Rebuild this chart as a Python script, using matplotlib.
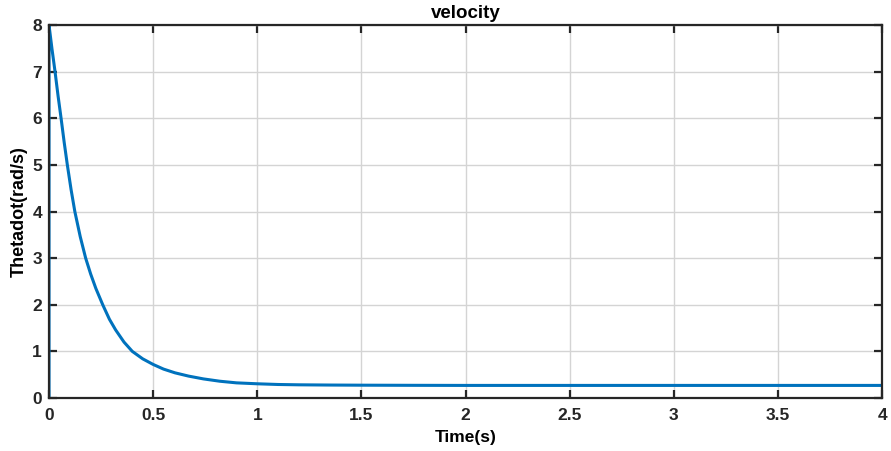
import numpy as np
import matplotlib
matplotlib.use("Agg")
import matplotlib.pyplot as plt

# angular velocity response
time_s = [0.0, 0.0, 0.0145, 0.029, 0.0435, 0.058, 0.073, 0.088, 0.106, 0.124,
          0.15, 0.176, 0.2, 0.225, 0.258, 0.29, 0.32, 0.36, 0.40, 0.45,
          0.5, 0.55, 0.605, 0.67, 0.741, 0.82, 0.9, 1.0, 1.1, 1.2,
          1.35, 1.5, 1.75, 2.0, 2.5, 3.0, 3.5, 4.0]
thetadot = [0.0, 8.0, 7.48, 7.0, 6.48, 6.0, 5.48, 5.0, 4.47, 4.0,
            3.46, 3.0, 2.66, 2.35, 2.0, 1.69, 1.46, 1.20, 1.0, 0.84,
            0.72, 0.62, 0.54, 0.47, 0.41, 0.36, 0.325, 0.305, 0.29, 0.283,
            0.278, 0.275, 0.272, 0.27, 0.27, 0.27, 0.27, 0.27]

x_ticks = [0, 0.5, 1, 1.5, 2, 2.5, 3, 3.5, 4]
x_tick_labels = ["0", "0.5", "1", "1.5", "2", "2.5", "3", "3.5", "4"]
y_ticks = [0, 1, 2, 3, 4, 5, 6, 7, 8]

plt.rcParams["font.family"] = ["Liberation Sans", "DejaVu Sans"]
plt.rcParams["font.weight"] = "bold"

fig = plt.figure(figsize=(8.91, 4.51), dpi=100)
ax = fig.add_axes([0.055, 0.1175, 0.935, 0.827])

ax.plot(time_s, thetadot, color="#0072BD", linewidth=2.2)

ax.set_xlim(0, 4)
ax.set_ylim(0, 8)
ax.set_xticks(x_ticks)
ax.set_xticklabels(x_tick_labels)
ax.set_yticks(y_ticks)

ax.grid(True, color="#d4d4d4", linewidth=1.0)
ax.set_axisbelow(True)
for side in ax.spines.values():
    side.set_color("#262626")
    side.set_linewidth(1.6)
ax.tick_params(direction="in", top=True, right=True, length=6, width=1.6,
               colors="#262626", labelsize=12.5)
ax.tick_params(axis="x", pad=7)
ax.tick_params(axis="y", pad=5)
for lbl in ax.get_xticklabels() + ax.get_yticklabels():
    lbl.set_fontweight("bold")

ax.set_title("velocity", fontsize=13.5, fontweight="bold", pad=5)
ax.set_xlabel("Time(s)", fontsize=12.5, fontweight="bold", labelpad=5)
ax.set_ylabel("Thetadot(rad/s)", fontsize=13, fontweight="bold", labelpad=3)

fig.savefig("out.png", dpi=100)
